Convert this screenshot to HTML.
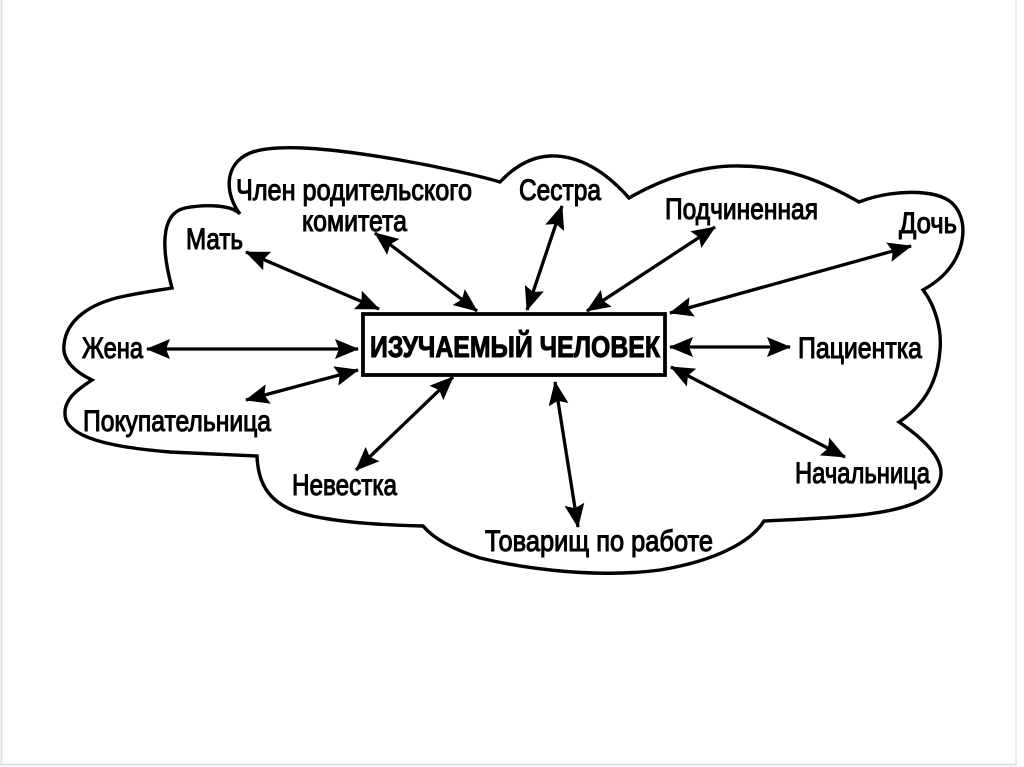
<!DOCTYPE html>
<html>
<head>
<meta charset="utf-8">
<style>
html,body{margin:0;padding:0;background:#fff;}
body{width:1024px;height:767px;overflow:hidden;}
svg{display:block;}
text{font-family:"Liberation Sans","DejaVu Sans",sans-serif;fill:#000;}
.l{font-size:30px;stroke:#000;stroke-width:1.1px;}
.c{font-size:30px;font-weight:bold;stroke:#000;stroke-width:1px;}
</style>
</head>
<body>
<svg width="1024" height="767" viewBox="0 0 1024 767" xmlns="http://www.w3.org/2000/svg">
<defs>
<marker id="a" viewBox="0 0 24 20" refX="23" refY="10" markerWidth="24" markerHeight="20" markerUnits="userSpaceOnUse" orient="auto-start-reverse">
<path d="M0,0 L24,10 L0,20 L4,10 z" fill="#000"/>
</marker>
</defs>
<rect x="0" y="0" width="1024" height="767" fill="#fff"/>
<!-- faint frame -->
<line x1="1.5" y1="0" x2="1.5" y2="765" stroke="#e2e2e2" stroke-width="2"/>
<line x1="1016" y1="0" x2="1016" y2="765" stroke="#ececec" stroke-width="2"/>
<line x1="0" y1="764.5" x2="1017" y2="764.5" stroke="#e2e2e2" stroke-width="2"/>

<!-- cloud -->
<path fill="none" stroke="#000" stroke-width="3.4" stroke-linejoin="miter" d="
M172,288
C163,255 158,214 185,208
C207,204 232,205 240,214
C226,196 222,165 250,153
C275,143 330,148 400,160
C440,167 480,176 500,182
C513,168 530,157 550,156
C580,155 606,172 629,198
C660,180 700,165 740,166
C785,166 822,181 859,202
C890,190 935,188 952,203
C969,219 965,250 948,270
C940,280 930,286 923,290
C935,305 942,330 940,350
C938,380 925,405 899,422
C925,440 946,460 940,480
C934,500 905,510 860,515
C820,519 780,520 764,521
C752,540 720,560 660,570
C600,578 530,570 480,558
C455,550 435,540 423,526
C380,525 322,522 292,510
C266,499 258,480 257,456
L170,452
C120,448 74,440 66,420
C60,400 80,388 92,380
C75,372 62,360 64,345
C66,320 90,303 125,296
C145,292 160,290 172,288 Z"/>

<!-- central box -->
<rect x="363" y="314" width="302" height="61" fill="#fff" stroke="#000" stroke-width="3.8"/>
<text class="c" x="370" y="357" textLength="290" lengthAdjust="spacingAndGlyphs">ИЗУЧАЕМЫЙ ЧЕЛОВЕК</text>

<!-- arrows -->
<g stroke="#000" stroke-width="3.3" marker-start="url(#a)" marker-end="url(#a)">
<line x1="246" y1="252" x2="379" y2="309"/>
<line x1="375" y1="233" x2="477" y2="311"/>
<line x1="562" y1="206" x2="527" y2="310"/>
<line x1="715" y1="227" x2="587" y2="311"/>
<line x1="911" y1="246" x2="670" y2="313"/>
<line x1="147" y1="349" x2="358" y2="349"/>
<line x1="670" y1="347" x2="790" y2="347"/>
<line x1="246" y1="400" x2="358" y2="370"/>
<line x1="356" y1="470" x2="453" y2="377"/>
<line x1="555" y1="382" x2="578" y2="527"/>
<line x1="671" y1="367" x2="845" y2="457"/>
</g>

<!-- labels -->
<text class="l" x="236" y="200" textLength="236" lengthAdjust="spacingAndGlyphs">Член родительского</text>
<text class="l" x="302" y="231" textLength="105" lengthAdjust="spacingAndGlyphs">комитета</text>
<text class="l" x="186" y="249" textLength="57" lengthAdjust="spacingAndGlyphs">Мать</text>
<text class="l" x="519" y="200" textLength="82" lengthAdjust="spacingAndGlyphs">Сестра</text>
<text class="l" x="665" y="219" textLength="153" lengthAdjust="spacingAndGlyphs">Подчиненная</text>
<text class="l" x="899" y="233" textLength="58" lengthAdjust="spacingAndGlyphs">Дочь</text>
<text class="l" x="82" y="358" textLength="61" lengthAdjust="spacingAndGlyphs">Жена</text>
<text class="l" x="798" y="358" textLength="124" lengthAdjust="spacingAndGlyphs">Пациентка</text>
<text class="l" x="83" y="431" textLength="188" lengthAdjust="spacingAndGlyphs">Покупательница</text>
<text class="l" x="292" y="495" textLength="105" lengthAdjust="spacingAndGlyphs">Невестка</text>
<text class="l" x="485" y="551" textLength="228" lengthAdjust="spacingAndGlyphs">Товарищ по работе</text>
<text class="l" x="795" y="483" textLength="135" lengthAdjust="spacingAndGlyphs">Начальница</text>
</svg>
</body>
</html>
